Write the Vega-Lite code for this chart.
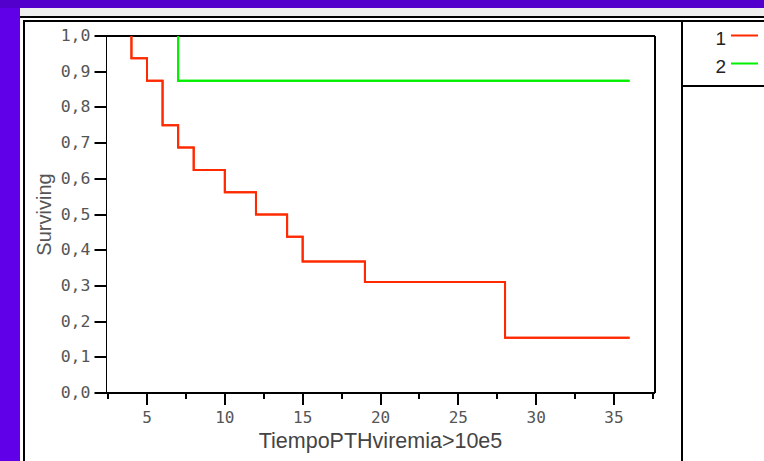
{
  "$schema": "https://vega.github.io/schema/vega-lite/v6.json",
  "padding": 0,
  "background": "white",
  "config": {"view": {"stroke": null}, "font": "Liberation Sans"},
  "datasets": {
    "km": [
      {"g": "1", "i": 0, "t": 4, "s": 1.0},
      {"g": "1", "i": 1, "t": 4, "s": 0.9375},
      {"g": "1", "i": 2, "t": 5, "s": 0.875},
      {"g": "1", "i": 3, "t": 6, "s": 0.75},
      {"g": "1", "i": 4, "t": 7, "s": 0.6875},
      {"g": "1", "i": 5, "t": 8, "s": 0.625},
      {"g": "1", "i": 6, "t": 10, "s": 0.5625},
      {"g": "1", "i": 7, "t": 12, "s": 0.5},
      {"g": "1", "i": 8, "t": 14, "s": 0.4375},
      {"g": "1", "i": 9, "t": 15, "s": 0.368},
      {"g": "1", "i": 10, "t": 19, "s": 0.311},
      {"g": "1", "i": 11, "t": 28, "s": 0.155},
      {"g": "1", "i": 12, "t": 36, "s": 0.155},
      {"g": "2", "i": 0, "t": 7, "s": 1.0},
      {"g": "2", "i": 1, "t": 7, "s": 0.875},
      {"g": "2", "i": 2, "t": 36, "s": 0.875}
    ]
  },
  "spacing": 0,
  "vconcat": [
    {"width": 764, "height": 8, "view": {"fill": "#5300cc"}, "data": {"values": []}, "mark": "point"},
    {
      "spacing": 0,
      "hconcat": [
        {"width": 20, "height": 453, "view": {"fill": "#6000e8"}, "data": {"values": []}, "mark": "point"},
        {
          "spacing": 0,
          "vconcat": [
            {"width": 744, "height": 8, "view": {"fill": "#efefef"}, "data": {"values": []}, "mark": "point"},
            {"width": 744, "height": 2, "view": {"fill": "black"}, "data": {"values": []}, "mark": "point"},
            {"width": 744, "height": 2, "data": {"values": []}, "mark": "point"},
            {
              "spacing": 0,
              "bounds": "flush",
              "hconcat": [
                {"width": 3, "height": 2, "data": {"values": []}, "mark": "point"},
                {"width": 741, "height": 2, "view": {"fill": "black"}, "data": {"values": []}, "mark": "point"}
              ]
            },
            {
              "spacing": 0,
              "bounds": "flush",
              "hconcat": [
                {"width": 3, "height": 439, "data": {"values": []}, "mark": "point"},
                {"width": 2, "height": 439, "view": {"fill": "black"}, "data": {"values": []}, "mark": "point"},
                {
                  "width": 656,
                  "height": 439,
                  "data": {"name": "km"},
                  "resolve": {"axis": {"x": "independent", "y": "independent"}},
                  "layer": [
                    {
                      "mark": {"type": "line", "interpolate": "step-after", "strokeWidth": 2},
                      "encoding": {
                        "x": {
                          "field": "t", "type": "quantitative",
                          "scale": {"domain": [2.366, 37.634], "range": [81, 630], "nice": false, "zero": false},
                          "axis": {
                            "orient": "bottom", "offset": -68, "translate": 0,
                            "values": [2.5, 5, 7.5, 10, 12.5, 15, 17.5, 20, 22.5, 25, 27.5, 30, 32.5, 35, 37.5],
                            "labelExpr": "datum.value % 5 === 0 ? format(datum.value, 'd') : ''",
                            "tickSize": {"condition": {"test": "datum.value % 5 === 0", "value": 12}, "value": 6},
                            "tickWidth": 2, "tickColor": "black",
                            "domainColor": "black", "domainWidth": 2,
                            "labelFont": "DejaVu Sans Mono", "labelFontSize": 16, "labelColor": "#555",
                            "labelPadding": 5, "labelFlush": false, "labelOverlap": false,
                            "title": "TiempoPTHviremia>10e5", "titleFont": "Liberation Sans", "titleFontSize": 21.5,
                            "titleFontWeight": "normal", "titleColor": "#444", "titlePadding": 5,
                            "grid": false
                          }
                        },
                        "y": {
                          "field": "s", "type": "quantitative",
                          "scale": {"domain": [0, 1], "range": [371, 14], "nice": false, "zero": false},
                          "axis": {
                            "orient": "left", "offset": -81.5, "translate": 0,
                            "values": [0, 0.1, 0.2, 0.3, 0.4, 0.5, 0.6, 0.7, 0.8, 0.9, 1],
                            "labelExpr": "replace(format(datum.value, '.1f'), '.', ',')",
                            "tickSize": 12, "tickWidth": 2, "tickColor": "black",
                            "domainColor": "black", "domainWidth": 1,
                            "labelFont": "DejaVu Sans Mono", "labelFontSize": 16.5, "labelColor": "#555",
                            "labelPadding": 4, "labelFlush": false, "labelOverlap": false,
                            "title": "Surviving", "titleFont": "Liberation Sans", "titleFontSize": 20,
                            "titleFontWeight": "normal", "titleColor": "#555", "titlePadding": 6,
                            "grid": false
                          }
                        },
                        "color": {
                          "field": "g", "type": "nominal",
                          "scale": {"domain": ["1", "2"], "range": ["#ff2a00", "#00f000"]},
                          "legend": {
                            "orient": "none", "legendX": 721, "legendY": 21, "title": null,
                            "symbolType": "stroke", "symbolSize": 729, "symbolStrokeWidth": 2,
                            "labelFont": "Liberation Sans", "labelFontSize": 19, "labelColor": "#222",
                            "labelAlign": "right", "labelOffset": -33, "symbolOffset": 9,
                            "rowPadding": -3, "padding": 0,
                            "encode": {"labels": {"update": {"dy": {"value": 3}}}}
                          }
                        },
                        "order": {"field": "i", "type": "quantitative"}
                      }
                    },
                    {
                      "mark": {"type": "line", "interpolate": "step-after", "strokeWidth": 2},
                      "encoding": {
                        "x": {
                          "field": "t", "type": "quantitative",
                          "scale": {"domain": [2.366, 37.634], "range": [81, 630], "nice": false, "zero": false},
                          "axis": {"orient": "top", "offset": -14, "translate": 0, "domain": true, "domainWidth": 2, "domainColor": "black", "ticks": false, "labels": false, "title": null, "grid": false}
                        },
                        "y": {
                          "field": "s", "type": "quantitative",
                          "scale": {"domain": [0, 1], "range": [371, 14], "nice": false, "zero": false},
                          "axis": {"orient": "right", "offset": -26, "translate": 0, "domain": true, "domainWidth": 2, "domainColor": "black", "ticks": false, "labels": false, "title": null, "grid": false}
                        },
                        "color": {"field": "g", "type": "nominal", "scale": {"domain": ["1", "2"], "range": ["#ff2a00", "#00f000"]}},
                        "order": {"field": "i", "type": "quantitative"}
                      }
                    }
                  ]
                },
                {"width": 2, "height": 439, "view": {"fill": "black"}, "data": {"values": []}, "mark": "point"},
                {
                  "spacing": 0,
                  "vconcat": [
                    {"width": 81, "height": 63, "data": {"values": []}, "mark": "point"},
                    {"width": 81, "height": 2, "view": {"fill": "black"}, "data": {"values": []}, "mark": "point"},
                    {"width": 81, "height": 374, "data": {"values": []}, "mark": "point"}
                  ]
                }
              ]
            }
          ]
        }
      ]
    }
  ]
}
